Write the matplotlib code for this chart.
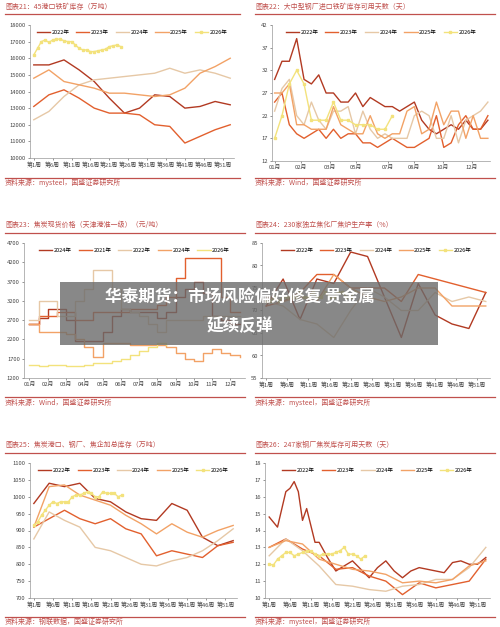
import matplotlib
matplotlib.use("Agg")
import matplotlib.pyplot as plt
import numpy as np

plt.rcParams['font.family'] = ['Noto Sans CJK SC', 'DejaVu Sans']

C = {'2022': '#b23a22', '2023': '#e2602e', '2024': '#e6c8a6', '2025': '#f2a266', '2026': '#f3e27c'}
RED = '#c0504d'

# ---------- data ----------
wk14 = [1, 5, 9, 13, 17, 21, 25, 29, 33, 37, 41, 45, 49, 53]
wk26 = list(range(1, 25))
week_ticks = [1, 6, 11, 16, 21, 26, 31, 36, 41, 46, 51]
week_labels = ['第%d周' % w for w in week_ticks]

p1_2022 = [15600, 15600, 15900, 15300, 14600, 13600, 12700, 13000, 13800, 13700, 13000, 13100, 13400, 13200]
p1_2023 = [13100, 13800, 14100, 13600, 13000, 12700, 12700, 12600, 12000, 11900, 10900, 11300, 11700, 12000]
p1_2024 = [12300, 12800, 13700, 14400, 14700, 14800, 14900, 15000, 15100, 15400, 15100, 15300, 15100, 14800]
p1_2025 = [14800, 15300, 14600, 14400, 14200, 13900, 13900, 13800, 13700, 13800, 14200, 15100, 15500, 16000]
p1_2026 = [16200, 16600, 17000, 17100, 16950, 17100, 17150, 17150, 17050, 17000, 17000, 16800,
           16600, 16500, 16500, 16400, 16400, 16450, 16500, 16550, 16700, 16750, 16800, 16700]

p2_2022 = [30, 34, 34, 39, 30, 29, 31, 27, 27, 25, 25, 27, 24, 26, 25, 24, 24, 23, 24, 25, 21, 19, 18, 19, 20, 19, 21, 19, 19, 21]
p2_2023 = [25, 27, 20, 18, 17, 18, 19, 17, 19, 17, 18, 18, 16, 16, 15, 16, 17, 16, 15, 15, 16, 17, 22, 15, 16, 20, 22, 19, 19, 22]
p2_2024 = [23, 28, 30, 22, 20, 25, 21, 19, 23, 23, 24, 18, 23, 19, 17, 18, 17, 17, 17, 22, 23, 22, 17, 17, 22, 16, 21, 22, 23, 25]
p2_2025 = [27, 27, 29, 20, 20, 19, 19, 19, 24, 20, 19, 18, 18, 22, 18, 17, 18, 18, 23, 24, 18, 19, 25, 20, 23, 23, 17, 22, 17, 17]
p2_2026 = [17, 22, 29, 32, 29, 21, 21, 21, 25, 21, 21, 20, 20, 20, 19, 19, 22]
p2_ticks = [0, 5, 10.5, 15.5, 21.5, 26.5, 32, 37.5]
p2_labels = ['01月', '02月', '03月', '05月', '07月', '08月', '10月', '12月']

p3_a = [2600, 2750, 3000, 3000, 2700, 2150, 2150, 2150, 2400, 2800, 3000, 2900, 2900, 2900, 2750, 2900, 3300, 3500, 3700, 3400, 2800, 2700, 2600, 2600]
p3_b = [2600, 2800, 2800, 2900, 2900, 2700, 2700, 2900, 2900, 2900, 2900, 3000, 3000, 3000, 3100, 3300, 3800, 4300, 4300, 4300, 4300, 3300, 2900, 2900]
p3_c = [2700, 3200, 3200, 2800, 2800, 3200, 3500, 4000, 4000, 3500, 3000, 2900, 2800, 2600, 2400, 2700, 2700, 2700, 2700, 2800, 2800, 2800, 2800, 2800]
p3_d = [2600, 2400, 2400, 2400, 2350, 2200, 2000, 1750, 2100, 2100, 2100, 2050, 2050, 2050, 2050, 2000, 1850, 1700, 1650, 1850, 1950, 1850, 1800, 1750]
p3_e = [1550, 1500, 1530, 1530, 1500, 1500, 1550, 1580, 1600, 1650, 1700, 1800, 1900, 2000, 2100, 2050]
p3_labels = ['%02d月' % m for m in range(1, 13)]

p4_2022 = [71, 77, 68, 77, 76, 83, 82, 73, 64, 76, 69, 67, 66, 74]
p4_2023 = [71, 72, 74, 78, 78, 75, 75, 75, 72, 78, 77, 76, 75, 74]
p4_2024 = [72, 71, 68, 67, 64, 70, 75, 73, 70, 70, 74, 72, 73, 72]
p4_2025 = [73, 72, 73, 72, 78, 75, 73, 72, 73, 75, 75, 71, 71, 71]
p4_2026 = [72, 72, 73, 72, 73, 73, 73, 73, 74, 73, 73, 74, 73, 73, 74, 73, 73, 74, 74, 73, 73, 74]

p5_2022 = [980, 1040, 1030, 1040, 995, 985, 955, 935, 930, 980, 960, 880, 855, 870]
p5_2023 = [910, 935, 960, 935, 920, 935, 905, 890, 825, 840, 830, 820, 855, 865]
p5_2024 = [875, 955, 930, 910, 850, 840, 820, 800, 795, 810, 820, 840, 870, 905]
p5_2025 = [910, 1030, 1035, 1005, 990, 975, 945, 920, 890, 920, 895, 880, 900, 915]
p5_2026 = [915, 925, 945, 960, 975, 985, 980, 985, 985, 985, 1000, 1005, 1005, 1010, 1015, 1010, 1000, 1000, 1015, 1010, 1010, 1010, 1000, 1005]

p6_w2022 = [1, 3, 5, 6, 7, 8, 9, 10, 11, 12, 13, 15, 17, 19, 21, 23, 25, 27, 29, 31, 33, 35, 37, 39, 41, 43, 45, 47, 49, 51, 53]
p6_2022 = [14.8, 14.2, 16.3, 16.5, 16.9, 16.3, 14.6, 15.3, 14.3, 13.3, 13.3, 12.4, 11.6, 11.9, 12.2, 11.7, 11.2, 11.8, 12.2, 11.6, 11.2, 11.6, 11.8, 11.7, 11.6, 11.5, 12.1, 12.2, 12.0, 12.0, 12.4]
p6_2023 = [13.0, 13.5, 12.9, 12.5, 11.7, 11.8, 11.3, 11.0, 10.2, 10.9, 10.6, 10.8, 11.0, 12.3]
p6_2024 = [12.5, 13.5, 12.8, 11.9, 10.8, 10.7, 10.5, 10.4, 10.7, 10.8, 11.1, 11.1, 11.8, 13.0]
p6_2025 = [13.0, 13.4, 13.2, 12.3, 12.0, 11.7, 11.6, 11.4, 10.9, 11.0, 10.9, 11.1, 11.9, 12.2]
p6_2026 = [12.0, 11.95, 12.3, 12.5, 12.7, 12.7, 12.5, 12.6, 12.7, 12.8, 12.8, 12.6, 12.5, 12.6, 12.6, 12.6, 12.7, 12.8, 13.0, 12.6, 12.6, 12.5, 12.3, 12.5]

# ---------- figure ----------
W, H = 500, 627
fig = plt.figure(figsize=(5, 6.27), dpi=100)
fig.patch.set_facecolor('white')

def ax_at(x0, y0, x1, y1):
    return fig.add_axes([x0 / W, 1 - y1 / H, (x1 - x0) / W, (y1 - y0) / H])

def header(x0, x1, y_title, y_line, title):
    fig.text(x0 / W, 1 - y_title / H, title, fontsize=5, color=RED, style='italic', va='center')
    fig.add_artist(plt.Line2D([x0 / W, x1 / W], [1 - y_line / H] * 2, color=RED, lw=0.9))

def footer(x0, x1, y_line, y_text, src):
    fig.add_artist(plt.Line2D([x0 / W, x1 / W], [1 - y_line / H] * 2, color=RED, lw=0.9))
    fig.text(x0 / W, 1 - y_text / H, src, fontsize=5, color=RED, style='italic', va='center')

def style(ax, ylim, yticks, xticks, xlabels, xlim):
    ax.set_ylim(*ylim)
    ax.set_yticks(yticks)
    ax.set_xlim(*xlim)
    ax.set_xticks(xticks)
    ax.set_xticklabels(xlabels)
    ax.tick_params(labelsize=4.2, length=1.5, width=0.4, colors='#444444', pad=1.5)
    for s in ['top', 'right']:
        ax.spines[s].set_visible(False)
    for s in ['left', 'bottom']:
        ax.spines[s].set_color('#999999')
        ax.spines[s].set_linewidth(0.5)
    ax.legend(loc='upper center', ncol=5, fontsize=4, frameon=False, handlelength=2.4,
              columnspacing=1.2, bbox_to_anchor=(0.5, 1.0), handletextpad=0.3)

def weekly(ax, s22, s23, s24, s25, s26, x22=None):
    ax.plot(x22 if x22 else wk14, s22, color=C['2022'], lw=1.0, label='2022年')
    ax.plot(wk14, s23, color=C['2023'], lw=1.0, label='2023年')
    ax.plot(wk14, s24, color=C['2024'], lw=1.0, label='2024年')
    ax.plot(wk14, s25, color=C['2025'], lw=1.0, label='2025年')
    ax.plot(wk26[:len(s26)], s26, color=C['2026'], lw=1.0, marker='s', ms=1.8, label='2026年')

# Panel 21
header(5, 240, 7, 14, '图表21：45港口铁矿库存（万吨）')
ax = ax_at(30, 25, 234, 158)
weekly(ax, p1_2022, p1_2023, p1_2024, p1_2025, p1_2026)
style(ax, (10000, 18000), range(10000, 18001, 1000), week_ticks, week_labels, (0, 54))
footer(5, 240, 178, 183, '资料来源：mysteel，国盛证券研究所')

# Panel 22
header(255, 495, 7, 14, '图表22：大中型钢厂进口铁矿库存可用天数（天）')
ax = ax_at(272, 25, 490, 161)
xi = np.arange(len(p2_2022)) * 1.4
ax.plot(xi, p2_2022, color=C['2022'], lw=1.0, label='2022年')
ax.plot(xi, p2_2023, color=C['2023'], lw=1.0, label='2023年')
ax.plot(xi, p2_2024, color=C['2024'], lw=1.0, label='2024年')
ax.plot(xi, p2_2025, color=C['2025'], lw=1.0, label='2025年')
ax.plot(xi[:len(p2_2026)], p2_2026, color=C['2026'], lw=1.0, marker='s', ms=1.8, label='2026年')
style(ax, (12, 42), range(12, 43, 5), p2_ticks, p2_labels, (-0.5, 41))
footer(255, 495, 178, 183, '资料来源：Wind，国盛证券研究所')

# Panel 23
header(5, 245, 225, 233, '图表23：焦炭现货价格（天津港准一级）（元/吨）')
ax = ax_at(24, 243, 245, 378)
xm = np.arange(len(p3_a)) * 0.5
ax.step(xm, p3_a, where='post', color=C['2022'], lw=1.0, label='2024年')
ax.step(xm, p3_b, where='post', color=C['2023'], lw=1.0, label='2021年')
ax.step(xm, p3_c, where='post', color=C['2024'], lw=1.0, label='2022年')
ax.step(xm, p3_d, where='post', color=C['2025'], lw=1.0, label='2024年')
ax.step(xm[:len(p3_e)], p3_e, where='post', color=C['2026'], lw=1.0, label='2026年')
style(ax, (1200, 4700), range(1200, 4701, 500), range(12), p3_labels, (-0.3, 11.8))
footer(5, 245, 397, 403, '资料来源：Wind，国盛证券研究所')

# Panel 24
header(255, 495, 225, 233, '图表24：230家独立焦化厂焦炉生产率（%）')
ax = ax_at(262, 243, 490, 378)
weekly(ax, p4_2022, p4_2023, p4_2024, p4_2025, p4_2026)
style(ax, (55, 85), range(55, 86, 5), week_ticks, week_labels, (0, 54))
footer(255, 495, 397, 403, '资料来源：mysteel，国盛证券研究所')

# Panel 25
header(5, 245, 445, 453, '图表25：焦炭港口、钢厂、焦企加总库存（万吨）')
ax = ax_at(30, 463, 237, 598)
weekly(ax, p5_2022, p5_2023, p5_2024, p5_2025, p5_2026)
style(ax, (700, 1100), range(700, 1101, 50), week_ticks, week_labels, (0, 54))
footer(5, 245, 617, 622, '资料来源：钢联数据，国盛证券研究所')

# Panel 26
header(255, 495, 445, 453, '图表26：247家钢厂焦炭库存可用天数（天）')
ax = ax_at(265, 463, 490, 598)
weekly(ax, p6_2022, p6_2023, p6_2024, p6_2025, p6_2026, x22=p6_w2022)
style(ax, (10, 18), range(10, 19, 1), week_ticks, week_labels, (0, 54))
footer(255, 495, 617, 622, '资料来源：mysteel，国盛证券研究所')

# banner
fig.patches.append(plt.Rectangle((60 / W, 1 - 345 / H), 378 / W, 63 / H, transform=fig.transFigure,
                                 facecolor=(0.42, 0.42, 0.42, 0.8), edgecolor='none', zorder=10))
fig.text(240 / W, 1 - 297 / H, '华泰期货：市场风险偏好修复 贵金属', fontsize=12, color='white',
         weight='bold', ha='center', va='center', zorder=11)
fig.text(240 / W, 1 - 326 / H, '延续反弹', fontsize=12, color='white',
         weight='bold', ha='center', va='center', zorder=11)

fig.savefig('out.png', dpi=100)
